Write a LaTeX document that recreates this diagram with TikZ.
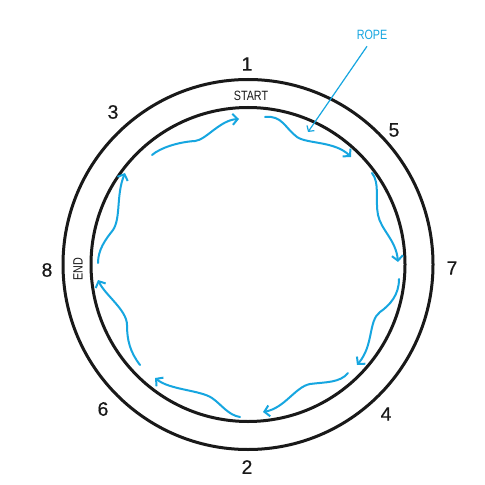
\documentclass[tikz,border=0pt]{standalone}
\usepackage{fontspec}
\setmainfont{Liberation Sans}
\newfontfamily\narrowfont[FakeStretch=0.8]{Liberation Sans}
\newfontfamily\numfont[FakeBold=0.5]{Liberation Sans}
\usetikzlibrary{arrows.meta}
\definecolor{ropecol}{RGB}{22,166,224}
\tikzset{
  ring/.style={line width=3bp, draw=black!90},
  num/.style={font=\numfont\fontsize{19.5}{20}\selectfont, text=black!90},
  small/.style={font=\narrowfont\fontsize{13.5}{14}\selectfont, text=black!90},
  wave/.style={draw=ropecol, line width=2bp, line cap=round,
    -{Straight Barb[length=5bp,width=11bp,line width=2bp]}},
  pointer/.style={draw=ropecol, line width=1.2bp,
    -{Straight Barb[length=4bp,width=9bp,line width=1.2bp]}}
}
\begin{document}
\begin{tikzpicture}[x=1bp,y=-1bp]
\useasboundingbox (0,0) rectangle (485,485);
\fill[white] (0,0) rectangle (485,485);
\coordinate (c) at (248,264.5);
\draw[ring] (c) circle[radius=185];
\draw[ring] (c) circle[radius=157];

% labels
\node[num] (n1) at (247,64) {1};
\node[num] (n5) at (394,130) {5};
\node[num] (n7) at (452,268) {7};
\node[num] (n4) at (386,414) {4};
\node[num] (n2) at (247,467) {2};
\node[num] (n6) at (103,409) {6};
\node[num] (n8) at (47,270) {8};
\node[num] (n3) at (113,112) {3};
\node[small] (start) at (251,96) {START};
\node[small, rotate=90] (end) at (78,269) {END};
\node[small, text=ropecol] (rope) at (372,35) {ROPE};
\coordinate (ropetip) at (308,132);
\draw[pointer] (rope.south) ++(-5,3) -- (ropetip);

% wavy rope arrows
\coordinate (a0) at (152,155); \coordinate (a3) at (239,119);
\draw[wave] (a0) .. controls (160,148) and (178,142) .. (195,141)
  .. controls (206,140) and (220,120) .. (a3);
\coordinate (b0) at (265,117); \coordinate (b3) at (351,157);
\draw[wave] (b0) .. controls (282,115) and (285,128) .. (297,137)
  .. controls (307,144) and (335,141) .. (b3);
\coordinate (c0) at (372,173); \coordinate (c3) at (398,262);
\draw[wave] (c0) .. controls (380,183) and (375,200) .. (378,215)
  .. controls (381,230) and (396,240) .. (c3);
\coordinate (d0) at (399,279); \coordinate (d3) at (357,365);
\draw[wave] (d0) .. controls (399,295) and (390,305) .. (380,312)
  .. controls (368,321) and (374,345) .. (d3);
\coordinate (e0) at (348,373); \coordinate (e3) at (263,412);
\draw[wave] (e0) .. controls (340,383) and (325,382) .. (310,384)
  .. controls (295,387) and (285,408) .. (e3);
\coordinate (f0) at (240,417); \coordinate (f3) at (155,378);
\draw[wave] (f0) .. controls (228,415) and (222,405) .. (212,398)
  .. controls (200,390) and (170,390) .. (f3);
\coordinate (g0) at (140,365); \coordinate (g3) at (98,280);
\draw[wave] (g0) .. controls (130,352) and (127,340) .. (127,325)
  .. controls (127,310) and (105,295) .. (g3);
\coordinate (h0) at (98,263); \coordinate (h3) at (125,173);
\draw[wave] (h0) .. controls (98,250) and (105,240) .. (113,230)
  .. controls (121,218) and (116,195) .. (h3);
\end{tikzpicture}
\end{document}
